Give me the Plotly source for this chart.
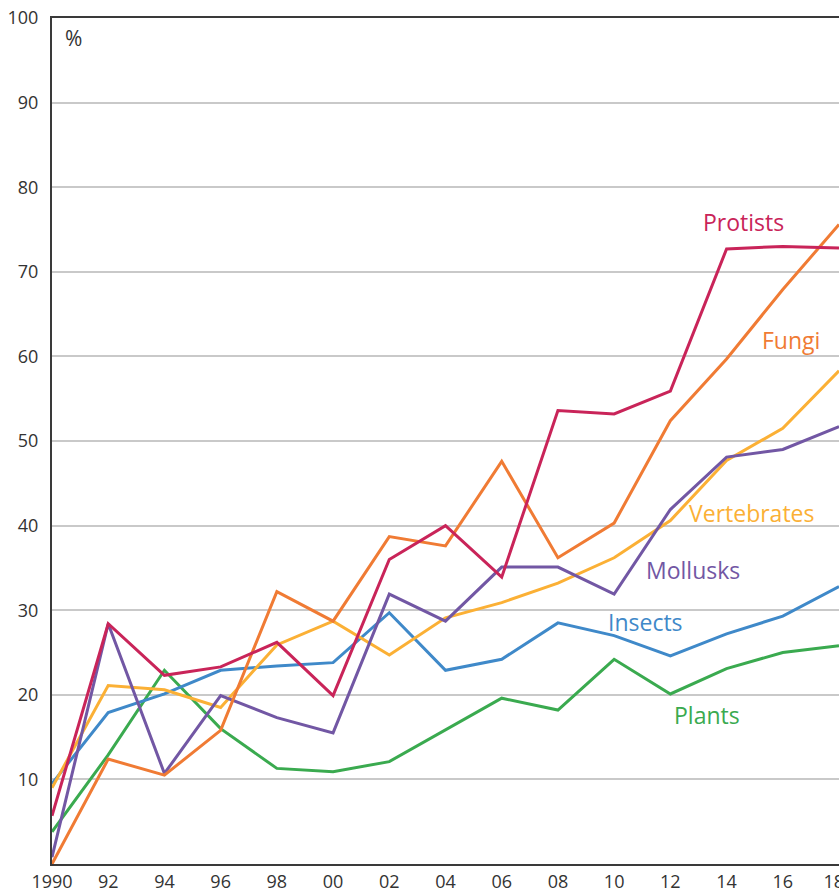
import plotly.graph_objects as go

years = [1990, 1992, 1994, 1996, 1998, 2000, 2002, 2004, 2006, 2008, 2010, 2012, 2014, 2016, 2018]

protists =    [5.7, 28.4, 22.3, 23.3, 26.2, 19.9, 36.0, 40.0, 33.9, 53.6, 53.2, 55.9, 72.7, 73.0, 72.8]
fungi =       [0.0, 12.4, 10.5, 15.8, 32.2, 28.7, 38.7, 37.6, 47.6, 36.2, 40.3, 52.4, 59.7, 67.9, 75.6]
vertebrates = [9.0, 21.1, 20.6, 18.5, 25.9, 28.7, 24.7, 29.1, 30.9, 33.2, 36.2, 40.6, 47.7, 51.5, 58.3]
mollusks =    [0.8, 28.4, 10.7, 19.9, 17.3, 15.5, 31.9, 28.7, 35.1, 35.1, 31.9, 41.9, 48.1, 49.0, 51.7]
insects =     [9.5, 17.9, 20.1, 22.9, 23.4, 23.8, 29.7, 22.9, 24.2, 28.5, 27.0, 24.6, 27.2, 29.3, 32.8]
plants =      [3.8, 12.9, 22.9, 16.0, 11.3, 10.9, 12.1, 15.8, 19.6, 18.2, 24.2, 20.1, 23.1, 25.0, 25.8]

series_names = ["Protists", "Fungi", "Vertebrates", "Mollusks", "Insects", "Plants"]
series_values = [protists, fungi, vertebrates, mollusks, insects, plants]
colors = ["#c92459", "#f07b34", "#fbb035", "#7257a4", "#3f89c9", "#3aaa4f"]
label_pos = [(2014.6, 75.9), (2016.3, 61.9), (2014.9, 41.5), (2012.8, 34.8), (2011.1, 28.6), (2013.3, 17.6)]

x_tickvals = [1990, 1992, 1994, 1996, 1998, 2000, 2002, 2004, 2006, 2008, 2010, 2012, 2014, 2016, 2018]
x_ticktext = ["1990", "92", "94", "96", "98", "00", "02", "04", "06", "08", "10", "12", "14", "16", "18\u2007"]
y_tickvals = [10, 20, 30, 40, 50, 60, 70, 80, 90, 100]

FONT = "Open Sans"

fig = go.Figure()
order = [5, 4, 2, 3, 1, 0]
for i in order:
    fig.add_trace(go.Scatter(
        x=years, y=series_values[i], mode="lines", name=series_names[i],
        line=dict(color=colors[i], width=3), showlegend=False, hoverinfo="skip"))

for i, name in enumerate(series_names):
    lx, ly = label_pos[i]
    fig.add_annotation(x=lx, y=ly, xref="x", yref="y", text=name, showarrow=False,
                       font=dict(family=FONT, size=23, color=colors[i]))

fig.add_annotation(x=1990.75, y=97.6, xref="x", yref="y", text="%", showarrow=False,
                   font=dict(family=FONT, size=21, color="#333333"))

fig.update_layout(
    width=839, height=894,
    margin=dict(l=52, r=0, t=18, b=30),
    paper_bgcolor="white", plot_bgcolor="white",
    xaxis=dict(range=[1990, 2018.0], tickvals=x_tickvals, ticktext=x_ticktext,
               showgrid=False, zeroline=False, showline=True, linecolor="#3a3a3a",
               linewidth=2, mirror=True, ticks="", ticklen=0, ticklabelstandoff=0,
               ticklabeloverflow="allow", automargin=False,
               tickfont=dict(family=FONT, size=18, color="#333333")),
    yaxis=dict(range=[0, 100], tickvals=y_tickvals, showgrid=True, gridcolor="#c9c9c9",
               gridwidth=1.5, zeroline=False, showline=True, linecolor="#3a3a3a",
               linewidth=2, ticks="", ticklen=0, ticklabelstandoff=8, automargin=False,
               tickfont=dict(family=FONT, size=18, color="#333333")),
)

fig.write_html("out.html", config={"displayModeBar": False},
               post_script="document.body.style.margin='0';document.body.style.overflow='hidden';")
